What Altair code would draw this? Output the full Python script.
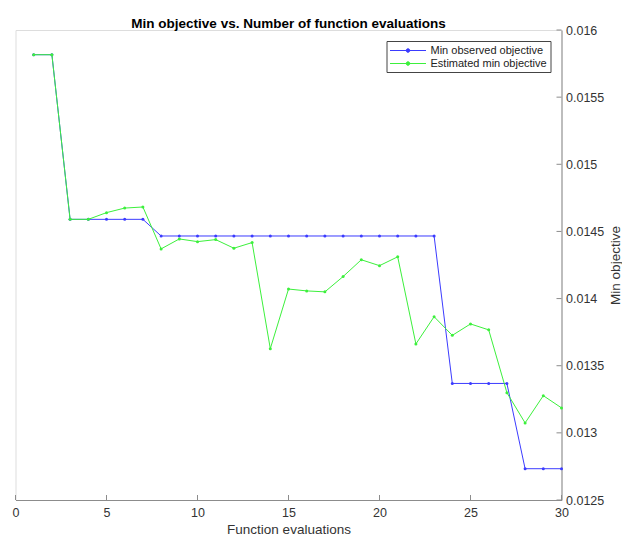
import altair as alt
import pandas as pd

# ---- data ----
evals = list(range(1, 31))
min_observed = [0.015816, 0.015816, 0.01459, 0.01459, 0.01459, 0.01459, 0.01459,
                0.014466, 0.014466, 0.014466, 0.014466, 0.014466, 0.014466, 0.014466,
                0.014466, 0.014466, 0.014466, 0.014466, 0.014466, 0.014466, 0.014466,
                0.014466, 0.014466,
                0.013368, 0.013368, 0.013368, 0.013368,
                0.012733, 0.012733, 0.012733]
est_min = [0.015816, 0.015816, 0.01459, 0.01459, 0.01464, 0.014674, 0.014682,
           0.01437, 0.014444, 0.014424, 0.014439, 0.014375, 0.014417, 0.013627,
           0.014071, 0.014057, 0.01405, 0.014164, 0.014289, 0.014245, 0.014311,
           0.013662, 0.013865, 0.013726, 0.013811, 0.013767, 0.013299, 0.013074,
           0.013277, 0.013186]
series_names = ["Min observed objective", "Estimated min objective"]
x_ticks = [0, 5, 10, 15, 20, 25, 30]
y_ticks = [0.0125, 0.013, 0.0135, 0.014, 0.0145, 0.015, 0.0155, 0.016]

df = pd.DataFrame({
    "x": evals + evals,
    "value": min_observed + est_min,
    "series": [series_names[0]] * len(evals) + [series_names[1]] * len(evals),
})

W, H = 546, 470
PAD_L, PAD_T = 7.5, 22
TOTAL_W, TOTAL_H = 614, 528
FONT = "Liberation Sans"
AXIS_COLOR = "#8c8c8c"
LABEL_COLOR = "#333333"
BLUE = "#3b3bff"
GREEN = "#3cf03c"

xscale = alt.Scale(domain=[0, 30], nice=False, zero=False)
yscale = alt.Scale(domain=[0.0125, 0.016], nice=False, zero=False)

x_axis = alt.Axis(
    values=x_ticks, ticks=False, grid=False, domainColor=AXIS_COLOR,
    labelColor=LABEL_COLOR, labelFont=FONT, labelFontSize=12.5, labelPadding=6,
    labelFlush=False, labelOverlap=False,
    title="Function evaluations", titleFont=FONT, titleFontSize=13.5,
    titleFontWeight="normal", titleColor=LABEL_COLOR,
    titleX=W / 2, titleY=29, titleAlign="center", titleBaseline="middle")

y_axis = alt.Axis(
    orient="right", values=y_ticks, format="~g", ticks=False, grid=False,
    domainColor=AXIS_COLOR, labelColor=LABEL_COLOR, labelFont=FONT,
    labelFontSize=12.5, labelPadding=4, labelFlush=False, labelOverlap=False,
    title="Min objective", titleFont=FONT, titleFontSize=13.5,
    titleFontWeight="normal", titleColor=LABEL_COLOR, titleAngle=270,
    titleX=53.5, titleY=H / 2, titleAlign="center", titleBaseline="middle")

x_enc = alt.X("x:Q", scale=xscale, axis=x_axis)
y_enc = alt.Y("value:Q", scale=yscale, axis=y_axis)

color_enc = alt.Color("series:N", scale=alt.Scale(domain=series_names, range=[BLUE, GREEN]),
                      legend=alt.Legend(
                          title=None, orient="none", legendX=W - 175, legendY=11,
                          direction="vertical",
                          strokeColor="#444444", fillColor="white", padding=3,
                          symbolType="M-1,0L5,0M2.3,0A0.3,0.3,0,1,1,1.7,0A0.3,0.3,0,1,1,2.3,0Z",
                          symbolSize=144, symbolStrokeWidth=1,
                          labelFont=FONT, labelFontSize=11, labelColor="#222222",
                          labelOffset=28, rowPadding=1))

base = alt.Chart(df)

layers = []
for name in series_names:
    sub = base.transform_filter(alt.datum.series == name)
    layers.append(sub.mark_line(strokeWidth=1).encode(x=x_enc, y=y_enc, color=color_enc))
    layers.append(sub.mark_point(filled=True, size=9, opacity=1).encode(x=x_enc, y=y_enc, color=color_enc))

xt = alt.Chart(pd.DataFrame({"x": x_ticks})).mark_rule(color=AXIS_COLOR, strokeWidth=1).encode(
    x=alt.X("x:Q", scale=xscale, axis=x_axis), y=alt.value(H), y2=alt.value(H - 5))
yt = alt.Chart(pd.DataFrame({"value": y_ticks})).mark_rule(color=AXIS_COLOR, strokeWidth=1).encode(
    y=alt.Y("value:Q", scale=yscale, axis=y_axis), x=alt.value(W), x2=alt.value(W - 5))

chart = alt.layer(*layers, xt, yt).properties(
    width=W, height=H,
    autosize=alt.AutoSizeParams(type="none"),
    padding={"left": PAD_L, "top": PAD_T, "right": TOTAL_W - PAD_L - W,
             "bottom": TOTAL_H - PAD_T - H},
    title=alt.TitleParams(
        "Min objective vs. Number of function evaluations",
        font=FONT, fontSize=13.5, fontWeight="bold", color="black",
        anchor="middle", frame="group", baseline="alphabetic", offset=5, dy=22),
).configure_view(stroke=None).configure(background="white")

chart.save("out.html", embed_options={"renderer": "svg", "actions": False})
